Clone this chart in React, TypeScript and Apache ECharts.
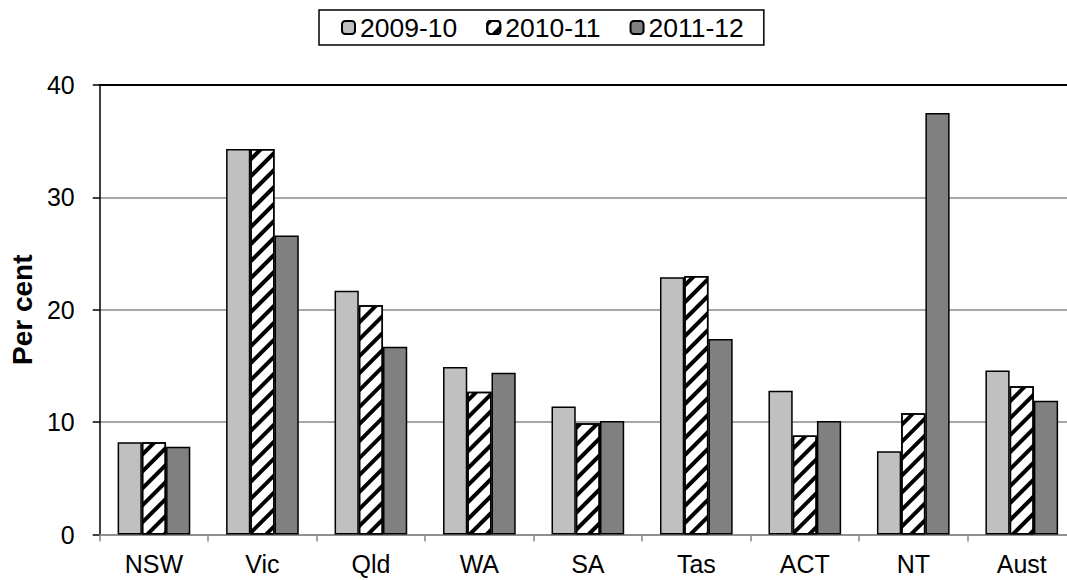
import React, { useEffect, useRef } from "react";
import * as echarts from "echarts";

const categories = ["NSW", "Vic", "Qld", "WA", "SA", "Tas", "ACT", "NT", "Aust"];
const seriesNames = ["2009-10", "2010-11", "2011-12"];
const values2009 = [8.2, 34.3, 21.7, 14.9, 11.4, 22.9, 12.8, 7.4, 14.6];
const values2010 = [8.2, 34.3, 20.4, 12.7, 9.9, 23.0, 8.8, 10.8, 13.2];
const values2011 = [7.8, 26.6, 16.7, 14.4, 10.1, 17.4, 10.1, 37.5, 11.9];
const yTicks = { min: 0, max: 40, interval: 10 };

const FONT = "'Liberation Sans', Arial, sans-serif";

export default function App() {
  const ref = useRef<HTMLDivElement>(null);
  useEffect(() => {
    if (!ref.current) return;
    const chart = echarts.init(ref.current, null, { renderer: "svg" });
    const border = { borderColor: "#000", borderWidth: 1.5 };
    chart.setOption({
      animation: false,
      backgroundColor: "#fff",
      textStyle: { fontFamily: FONT },
      legend: {
        left: 319,
        top: 10,
        data: seriesNames,
        itemWidth: 13,
        itemHeight: 13,
        itemGap: 29,
        padding: [4, 20, 4, 22],
        borderColor: "#000",
        borderWidth: 1.5,
        textStyle: { fontSize: 26.5, color: "#000", fontFamily: FONT },
      },
      grid: { left: 97, right: 0, top: 85, bottom: 45.5, containLabel: false },
      xAxis: [
        {
          type: "category",
          data: categories,
          axisLine: { lineStyle: { color: "#888", width: 1.5 } },
          axisTick: { show: true, length: 7, lineStyle: { color: "#888", width: 1.5 } },
          axisLabel: { fontSize: 25, color: "#000", margin: 17, fontFamily: FONT },
        },
        {
          type: "category",
          data: categories,
          position: "top",
          axisLine: { lineStyle: { color: "#000", width: 2 } },
          axisTick: { show: false },
          axisLabel: { show: false },
        },
      ],
      yAxis: {
        type: "value",
        min: yTicks.min,
        max: yTicks.max,
        interval: yTicks.interval,
        name: "Per cent",
        nameLocation: "middle",
        nameGap: 50,
        nameRotate: 90,
        nameTextStyle: { fontSize: 28, fontWeight: "bold", color: "#000", fontFamily: FONT },
        axisLine: { show: true, lineStyle: { color: "#000", width: 1.5 } },
        axisTick: { show: true, length: 7, lineStyle: { color: "#000", width: 1.5 } },
        axisLabel: { fontSize: 25, color: "#000", margin: 25, fontFamily: FONT },
        splitLine: { show: true, lineStyle: { color: "#888", width: 1.5 } },
      },
      series: [
        {
          name: seriesNames[0],
          type: "bar",
          data: values2009,
          barGap: "0%",
          barCategoryGap: "33%",
          itemStyle: { color: "#C0C0C0", ...border },
        },
        {
          name: seriesNames[1],
          type: "bar",
          data: values2010,
          barGap: "0%",
          barCategoryGap: "33%",
          itemStyle: {
            color: "#fff",
            ...border,
            decal: {
              symbol: "rect",
              symbolSize: 1,
              color: "#000",
              dashArrayX: [1, 0],
              dashArrayY: [3.9, 7.4],
              rotation: -Math.PI / 4,
            },
          },
        },
        {
          name: seriesNames[2],
          type: "bar",
          data: values2011,
          barGap: "0%",
          barCategoryGap: "33%",
          itemStyle: { color: "#808080", ...border },
        },
      ],
    });
    return () => chart.dispose();
  }, []);
  return (
    <div style={{ position: "absolute", left: 0, top: 0, width: 1067, height: 580, overflow: "hidden", background: "#fff" }}>
      <div ref={ref} style={{ width: 1076, height: 580 }} />
    </div>
  );
}
